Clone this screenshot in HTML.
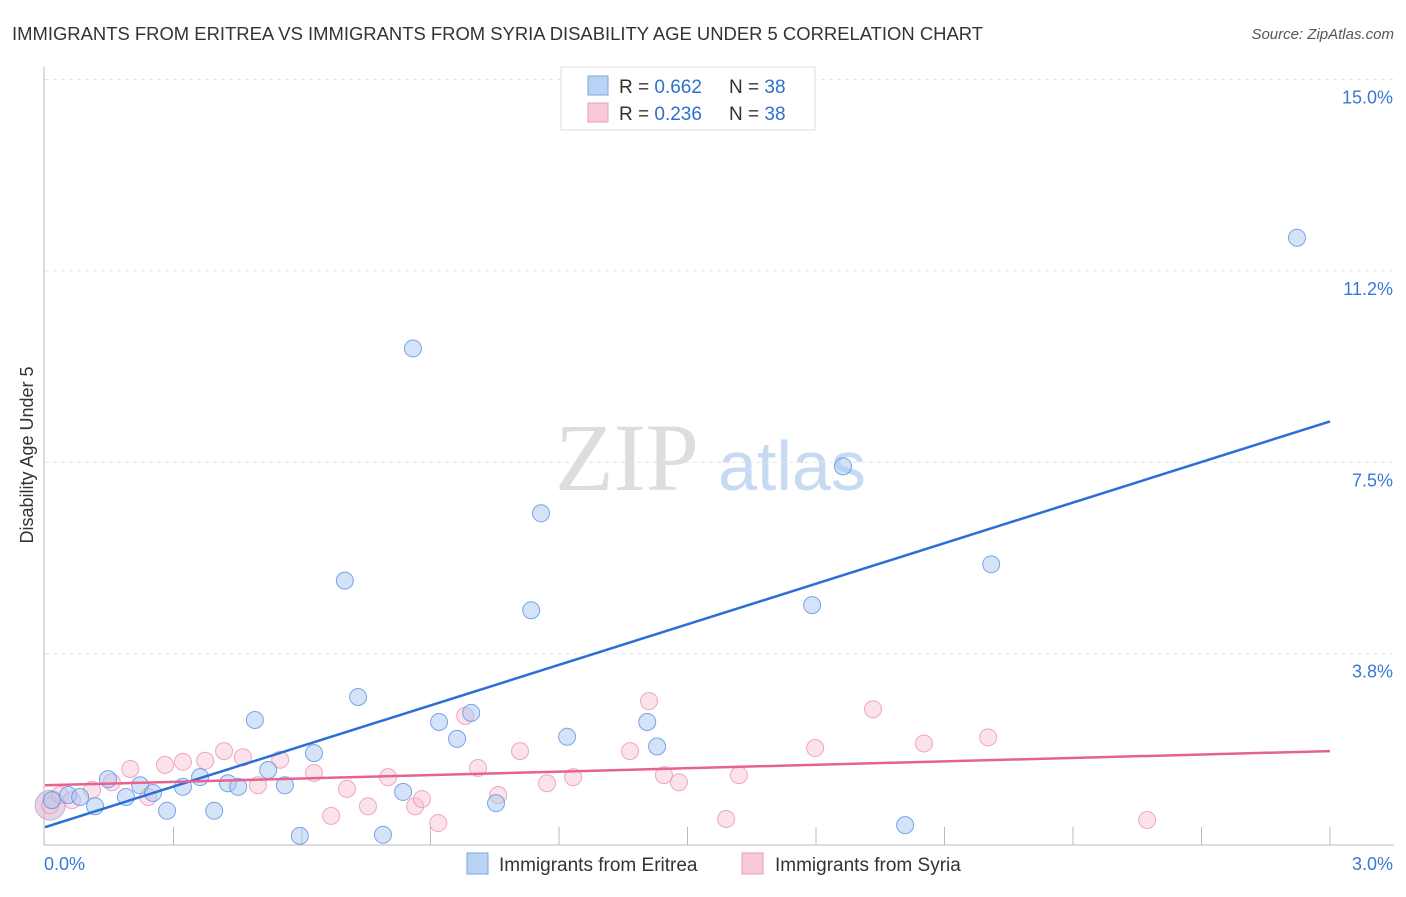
<!DOCTYPE html>
<html><head><meta charset="utf-8"><style>
body{margin:0;background:#fff;font-family:"Liberation Sans",sans-serif;}
</style></head><body>
<svg width="1406" height="892" xmlns="http://www.w3.org/2000/svg" id="chart">
<text x="12" y="40" font-size="18" fill="#333" textLength="971" lengthAdjust="spacingAndGlyphs">IMMIGRANTS FROM ERITREA VS IMMIGRANTS FROM SYRIA DISABILITY AGE UNDER 5 CORRELATION CHART</text>
<text x="1394" y="39" font-size="15" fill="#555" text-anchor="end" font-style="italic">Source: ZipAtlas.com</text>
<text x="33" y="455" font-size="18" fill="#333" transform="rotate(-90 33 455)" text-anchor="middle">Disability Age Under 5</text>
<text x="555" y="490" font-size="96" fill="#ddd" font-family="Liberation Serif,serif">ZIP</text>
<text x="718" y="490" font-size="70" fill="#c8daf2">atlas</text>
<g id="grid"></g><g id="axes"></g><g id="marks"></g>
<g>
<rect x="561" y="67" width="254" height="63" fill="#fff" stroke="#ddd"/>
<rect x="588" y="76" width="20" height="19" fill="#b9d3f5" stroke="#7aa7e0"/>
<rect x="588" y="103" width="20" height="19" fill="#f8c9d8" stroke="#ee9ab5"/>
<text x="619" y="93" font-size="19" fill="#333">R = <tspan fill="#2f6fd0">0.662</tspan></text>
<text x="729" y="93" font-size="19" fill="#333">N = <tspan fill="#2f6fd0">38</tspan></text>
<text x="619" y="120" font-size="19" fill="#333">R = <tspan fill="#2f6fd0">0.236</tspan></text>
<text x="729" y="120" font-size="19" fill="#333">N = <tspan fill="#2f6fd0">38</tspan></text>
</g>
<g>
<rect x="467" y="853" width="21" height="21" fill="#b9d3f5" stroke="#7aa7e0"/>
<text x="499" y="871" font-size="19" fill="#333">Immigrants from Eritrea</text>
<rect x="742" y="853" width="21" height="21" fill="#f8c9d8" stroke="#ee9ab5"/>
<text x="775" y="871" font-size="19" fill="#333">Immigrants from Syria</text>
</g>
</svg>
<script>
const blueX=[0.016,0.054,0.082,0.117,0.147,0.189,0.222,0.252,0.285,0.322,0.362,0.395,0.427,0.451,0.490,0.521,0.560,0.595,0.628,0.700,0.731,0.789,0.836,0.859,0.920,0.962,0.995,1.053,1.135,1.158,1.219,1.406,1.429,1.791,1.863,2.008,2.209,2.923];
const blueY=[0.88,0.98,0.94,0.76,1.29,0.94,1.17,1.02,0.67,1.14,1.33,0.67,1.21,1.14,2.45,1.47,1.17,0.18,1.80,5.18,2.90,0.20,1.04,9.73,2.41,2.08,2.59,0.82,4.60,6.50,2.12,2.41,1.93,4.70,7.42,0.39,5.50,11.90];
const pinkX=[0.012,0.035,0.063,0.110,0.156,0.199,0.241,0.280,0.322,0.374,0.418,0.462,0.497,0.549,0.628,0.668,0.705,0.754,0.801,0.864,0.880,0.918,0.981,1.011,1.058,1.109,1.172,1.233,1.366,1.410,1.445,1.480,1.590,1.620,1.798,1.933,2.052,2.202,2.573];
const pinkY=[0.78,0.98,0.88,1.08,1.23,1.49,0.94,1.57,1.63,1.65,1.84,1.72,1.17,1.67,1.41,0.57,1.10,0.76,1.33,0.76,0.90,0.43,2.53,1.51,0.98,1.84,1.21,1.33,1.84,2.82,1.37,1.23,0.51,1.37,1.90,2.66,1.99,2.11,0.49];
const trendX=[0,3.0];
const blueTrend=[0.35,8.3];
const pinkTrend=[1.17,1.84];
const yTicks=[3.75,7.5,11.25,15.0];
const yTickLabels=["3.8%","7.5%","11.2%","15.0%"];
const xTicks=[0.3,0.6,0.9,1.2,1.5,1.8,2.1,2.4,2.7,3.0];
const X0=45,X1=1330,Y0=845,Ytop=79.5;
const sx=v=>X0+(X1-X0)*v/3.0;
const sy=v=>Y0-(Y0-Ytop)*v/15.0;
const NS="http://www.w3.org/2000/svg";
function mk(tag,parent,attrs){const e=document.createElementNS(NS,tag);for(const k in attrs)e.setAttribute(k,attrs[k]);document.getElementById(parent).appendChild(e);return e;}
yTicks.forEach((t,i)=>{
 const l=mk('line','grid',{x1:X0,x2:1394,y1:sy(t),y2:sy(t),stroke:'#e3e3e3','stroke-dasharray':'4,4'});
 
 
 const tx=mk('text','grid',{x:1393,y:sy(t)+24,'font-size':18,fill:'#3a78d4','text-anchor':'end'});
 tx.textContent=yTickLabels[i];
 
 
});
let ax=mk('line','axes',{x1:X0-1,x2:X0-1,y1:67,y2:Y0,stroke:'#bbb'});


ax=mk('line','axes',{x1:X0-1,x2:1394,y1:Y0,y2:Y0,stroke:'#bbb'});


xTicks.forEach(t=>{const l=mk('line','axes',{x1:sx(t),x2:sx(t),y1:827,y2:Y0,stroke:'#bbb'});
 
 });
let t0=mk('text','axes',{x:44,y:870,'font-size':18,fill:'#3a78d4'});t0.textContent='0.0%';


let t1=mk('text','axes',{x:1393,y:870,'font-size':18,fill:'#3a78d4','text-anchor':'end'});t1.textContent='3.0%';


const big=mk('circle','marks',{cx:sx(0.012),cy:sy(0.78),r:15,fill:'rgba(200,170,210,0.5)',stroke:'rgba(190,150,200,0.7)'});


pinkX.forEach((x,i)=>{const c=mk('circle','marks',{cx:sx(x),cy:sy(pinkY[i]),r:8.5,fill:'rgba(248,190,210,0.45)',stroke:'rgba(236,140,175,0.75)'});
 
 });
blueX.forEach((x,i)=>{const c=mk('circle','marks',{cx:sx(x),cy:sy(blueY[i]),r:8.5,fill:'rgba(170,200,242,0.5)',stroke:'rgba(80,140,220,0.75)'});
 
 });
let bl=mk('line','marks',{x1:sx(trendX[0]),x2:sx(trendX[1]),y1:sy(blueTrend[0]),y2:sy(blueTrend[1]),stroke:'#2a6fd6','stroke-width':2.5});


let pl=mk('line','marks',{x1:sx(trendX[0]),x2:sx(trendX[1]),y1:sy(pinkTrend[0]),y2:sy(pinkTrend[1]),stroke:'#e8628e','stroke-width':2.5});


</script>
</body></html>
